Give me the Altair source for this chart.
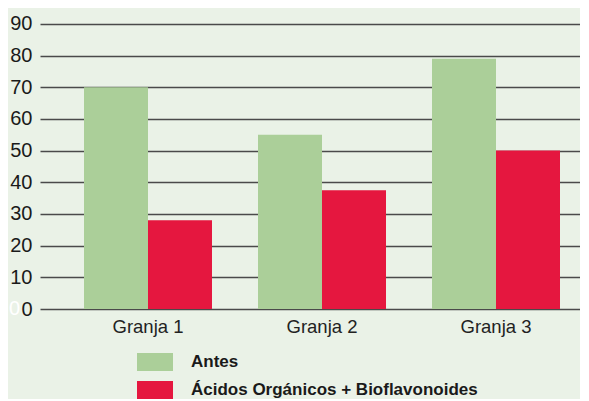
import altair as alt
import pandas as pd

categories = ["Granja 1", "Granja 2", "Granja 3"]
series = ["Antes", "Ácidos Orgánicos + Bioflavonoides"]
antes = [70, 55, 79]
acidos = [28, 37.5, 50]
y_ticks = [0, 10, 20, 30, 40, 50, 60, 70, 80, 90]
colors = ["#abcf99", "#e5173f"]

rows = []
for c, a, b in zip(categories, antes, acidos):
    rows.append({"granja": c, "serie": series[0], "valor": a})
    rows.append({"granja": c, "serie": series[1], "valor": b})
df = pd.DataFrame(rows)

bg = "#eaf2e7"
font = "Liberation Sans"

y_axis = alt.Axis(values=y_ticks, grid=True, gridColor="#4a4a4a", gridWidth=1.6,
                  domain=False, ticks=False, labelPadding=8, labelFontSize=20,
                  labelOverlap=False, labelFlush=False,
                  labelColor="#1a1a1a", labelFont=font)
y_scale = alt.Scale(domain=[0, 95], nice=False)

bars = alt.Chart(df).mark_bar().encode(
    x=alt.X("granja:N", sort=categories, title=None,
            scale=alt.Scale(paddingInner=0.2644, paddingOuter=0.1839, align=0.6875),
            axis=alt.Axis(labelAngle=0, domain=False, ticks=False, labelPadding=8,
                          labelFontSize=18.5, labelColor="#222", labelFont=font)),
    xOffset=alt.XOffset("serie:N", sort=series, scale=alt.Scale(paddingInner=0, paddingOuter=0)),
    y=alt.Y("valor:Q", title=None, scale=y_scale, axis=y_axis),
    color=alt.Color("serie:N", sort=series, title=None,
                    scale=alt.Scale(domain=series, range=colors),
                    legend=alt.Legend(orient="none", legendX=106, legendY=345,
                                      symbolType="M-2,-1H2V1H-2Z", symbolSize=324,
                                      symbolStrokeWidth=0, symbolOpacity=1,
                                      labelOffset=27, rowPadding=10, padding=0,
                                      labelFontSize=17, labelFontWeight="bold",
                                      labelFont=font, labelColor="#1a1a1a", labelLimit=500)),
)

zero_df = pd.DataFrame({"valor": [0], "t": ["0"]})
white_zero = alt.Chart(zero_df).mark_text(
    color="white", fontSize=20, font=font, align="right", baseline="middle"
).encode(y=alt.Y("valor:Q", title=None, scale=y_scale, axis=y_axis),
         x=alt.value(-20), text="t:N")

chart = alt.layer(bars, white_zero).properties(
    width=540, height=301, background=bg, padding=0
).configure_view(fill=bg, stroke=None)

chart.save("out.html", embed_options={"renderer": "svg", "actions": False})
